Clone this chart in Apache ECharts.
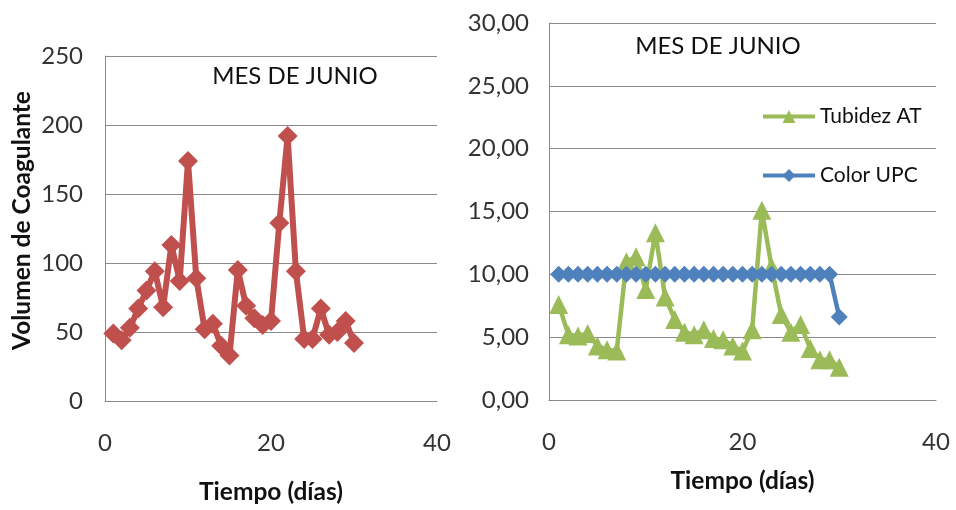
<!DOCTYPE html>
<html>
<head>
<meta charset="utf-8">
<title>Mes de junio</title>
<script src="https://cdn.jsdelivr.net/npm/echarts@6/dist/echarts.min.js"></script>
<style>
  html, body { margin: 0; padding: 0; background: #fff; }
  #chart { width: 956px; height: 510px; }
</style>
</head>
<body>
<div id="chart"></div>
<script>
// Days of June
const days = [1,2,3,4,5,6,7,8,9,10,11,12,13,14,15,16,17,18,19,20,21,22,23,24,25,26,27,28,29,30];

// Coagulant volume per day
const volumenCoagulante = [49,44,53,67,80,94,68,113,87,174,89,52,56,40,33,95,69,60,55,58,129,192,94,45,45,67,48,50,58,42];

// Raw water turbidity per day
const tubidezAT = [7.6,5.2,5.1,5.3,4.3,4.0,3.9,11.0,11.4,8.8,13.3,8.2,6.4,5.4,5.2,5.6,4.9,4.8,4.3,3.9,5.6,15.1,10.6,6.8,5.4,6.0,4.1,3.2,3.2,2.6];

// Colour (UPC) per day
const colorUPC = [10,10,10,10,10,10,10,10,10,10,10,10,10,10,10,10,10,10,10,10,10,10,10,10,10,10,10,10,10,6.6];

const titleText = 'MES DE JUNIO';
const xName = 'Tiempo (días)';
const yNameLeft = 'Volumen de Coagulante';

const FONT = 'Lato, "Open Sans", sans-serif';
const pairs = vals => days.map((d, i) => [d, vals[i]]);

const gridLine = { show: true, lineStyle: { color: '#8a8a8a', width: 1 } };
const axisLine = { show: true, lineStyle: { color: '#8a8a8a', width: 1 } };
const labelStyle = { fontFamily: FONT, fontSize: 24, color: '#333' };
const nameStyle = { fontFamily: FONT, fontSize: 24.5, fontWeight: 'bold', color: '#111' };
const titleStyle = { fontFamily: FONT, fontSize: 24, fontWeight: 'normal', color: '#111' };

const chart = echarts.init(document.getElementById('chart'), null, { renderer: 'canvas' });

chart.setOption({
  backgroundColor: '#fff',
  animation: false,
  title: [
    { text: titleText, left: 290, top: 59, textAlign: 'center', textStyle: titleStyle },
    { text: titleText, left: 713, top: 29, textAlign: 'center', textStyle: titleStyle }
  ],
  legend: {
    data: ['Tubidez AT', 'Color UPC'],
    orient: 'vertical',
    left: 756,
    top: 101,
    itemWidth: 52,
    itemHeight: 16,
    itemGap: 38,
    lineStyle: { width: 4 },
    textStyle: { fontFamily: FONT, fontSize: 21, color: '#111' }
  },
  grid: [
    { left: 105, right: 519, top: 56, bottom: 108 },
    { left: 549, right: 20, top: 23, bottom: 110 }
  ],
  xAxis: [
    { type: 'value', gridIndex: 0, min: 0, max: 40, interval: 20,
      name: xName, nameLocation: 'middle', nameGap: 79, nameTextStyle: nameStyle,
      axisLine: axisLine, axisTick: { show: false }, splitLine: { show: false },
      axisLabel: Object.assign({ margin: 30 }, labelStyle) },
    { type: 'value', gridIndex: 1, min: 0, max: 40, interval: 20,
      name: xName, nameLocation: 'middle', nameGap: 69, nameTextStyle: nameStyle,
      axisLine: axisLine, axisTick: { show: false }, splitLine: { show: false },
      axisLabel: Object.assign({ margin: 30 }, labelStyle) }
  ],
  yAxis: [
    { type: 'value', gridIndex: 0, min: 0, max: 250, interval: 50,
      name: yNameLeft, nameLocation: 'middle', nameGap: 70, nameRotate: 90,
      nameTextStyle: Object.assign({ padding: [0, 0, 0, 16] }, nameStyle),
      axisLine: axisLine, axisTick: { show: false }, splitLine: gridLine,
      axisLabel: Object.assign({ margin: 22 }, labelStyle) },
    { type: 'value', gridIndex: 1, min: 0, max: 30, interval: 5,
      axisLine: axisLine, axisTick: { show: false }, splitLine: gridLine,
      axisLabel: Object.assign({ margin: 20, formatter: v => v.toFixed(2).replace('.', ',') }, labelStyle) }
  ],
  series: [
    { name: 'Volumen de Coagulante', type: 'line', xAxisIndex: 0, yAxisIndex: 0,
      data: pairs(volumenCoagulante),
      symbol: 'diamond', symbolSize: 20,
      lineStyle: { color: '#C0504D', width: 6 },
      itemStyle: { color: '#C0504D' } },
    { name: 'Tubidez AT', type: 'line', xAxisIndex: 1, yAxisIndex: 1,
      data: pairs(tubidezAT),
      symbol: 'triangle', symbolSize: 19,
      lineStyle: { color: '#9BBB59', width: 4.5 },
      itemStyle: { color: '#9BBB59' } },
    { name: 'Color UPC', type: 'line', xAxisIndex: 1, yAxisIndex: 1,
      data: pairs(colorUPC),
      symbol: 'diamond', symbolSize: 17,
      lineStyle: { color: '#4F81BD', width: 4.5 },
      itemStyle: { color: '#4F81BD' } }
  ]
});
</script>
</body>
</html>
